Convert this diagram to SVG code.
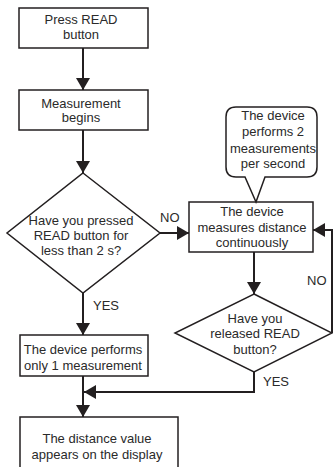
<svg xmlns="http://www.w3.org/2000/svg" width="333" height="467" viewBox="0 0 333 467">
  <style>
    .box { fill: #ffffff; stroke: #231f20; stroke-width: 1.5; }
    .wire { fill: none; stroke: #231f20; stroke-width: 2; }
    text { font-family: "Liberation Sans", Arial, sans-serif; font-size: 13px; fill: #2a2a2a; text-anchor: middle; }
    .lbl { text-anchor: start; }
  </style>
  <defs>
    <marker id="arrow" markerUnits="userSpaceOnUse" markerWidth="13" markerHeight="14" refX="12" refY="7" orient="auto">
      <path d="M0,0 L12,7 L0,14 Z" fill="#231f20"/>
    </marker>
  </defs>

  <!-- connectors -->
  <g id="connectors">
    <line class="wire" x1="83" y1="48" x2="83" y2="90" marker-end="url(#arrow)"/>
    <line class="wire" x1="83" y1="130" x2="83" y2="173" marker-end="url(#arrow)"/>
    <line class="wire" x1="160" y1="233" x2="189" y2="233" marker-end="url(#arrow)"/>
    <line class="wire" x1="83" y1="293" x2="83" y2="335" marker-end="url(#arrow)"/>
    <line class="wire" x1="254" y1="252" x2="254" y2="294" marker-end="url(#arrow)"/>
    <polyline class="wire" points="332,333 332,230 313,230" marker-end="url(#arrow)"/>
    <polyline class="wire" points="254,372 254,392 84,392" marker-end="url(#arrow)"/>
    <line class="wire" x1="83" y1="376" x2="83" y2="417" marker-end="url(#arrow)"/>
    <text class="lbl" x="160" y="222">NO</text>
    <text class="lbl" x="93" y="310">YES</text>
    <text class="lbl" x="307" y="285">NO</text>
    <text class="lbl" x="263" y="386">YES</text>
  </g>

  <g id="press-read">
    <rect class="box" x="19" y="8" width="129" height="40"/>
    <text x="81" y="24">Press READ</text>
    <text x="81" y="39">button</text>
  </g>

  <g id="measurement-begins">
    <rect class="box" x="19" y="90" width="129" height="40"/>
    <text x="81" y="108">Measurement</text>
    <text x="81" y="122">begins</text>
  </g>

  <g id="pressed-short">
    <polygon class="box" points="83,173 160,233 83,293 7,233"/>
    <text x="81" y="225">Have you pressed</text>
    <text x="81" y="240">READ button for</text>
    <text x="81" y="255">less than 2 s?</text>
  </g>

  <g id="measures-continuously">
    <rect class="box" x="189" y="202" width="124" height="50"/>
    <text x="252" y="216">The device</text>
    <text x="252" y="232">measures distance</text>
    <text x="252" y="247">continuously</text>
  </g>

  <g id="two-per-second">
    <path class="box" d="M236,107 H307 Q317,107 317,117 V167 Q317,177 307,177 H265 L256,202 L245,177 H236 Q226,177 226,167 V117 Q226,107 236,107 Z"/>
    <text x="273" y="120">The device</text>
    <text x="273" y="136">performs 2</text>
    <text x="273" y="153">measurements</text>
    <text x="273" y="168">per second</text>
  </g>

  <g id="released">
    <polygon class="box" points="254,294 332,333 254,372 175,333"/>
    <text x="255" y="323">Have you</text>
    <text x="255" y="338">released READ</text>
    <text x="255" y="354">button?</text>
  </g>

  <g id="single-measurement">
    <rect class="box" x="20" y="335" width="128" height="41"/>
    <text x="83" y="354">The device performs</text>
    <text x="83" y="370">only 1 measurement</text>
  </g>

  <g id="show-value">
    <rect class="box" x="20" y="417" width="158" height="60"/>
    <text x="97" y="443">The distance value</text>
    <text x="97" y="459">appears on the display</text>
  </g>
</svg>
